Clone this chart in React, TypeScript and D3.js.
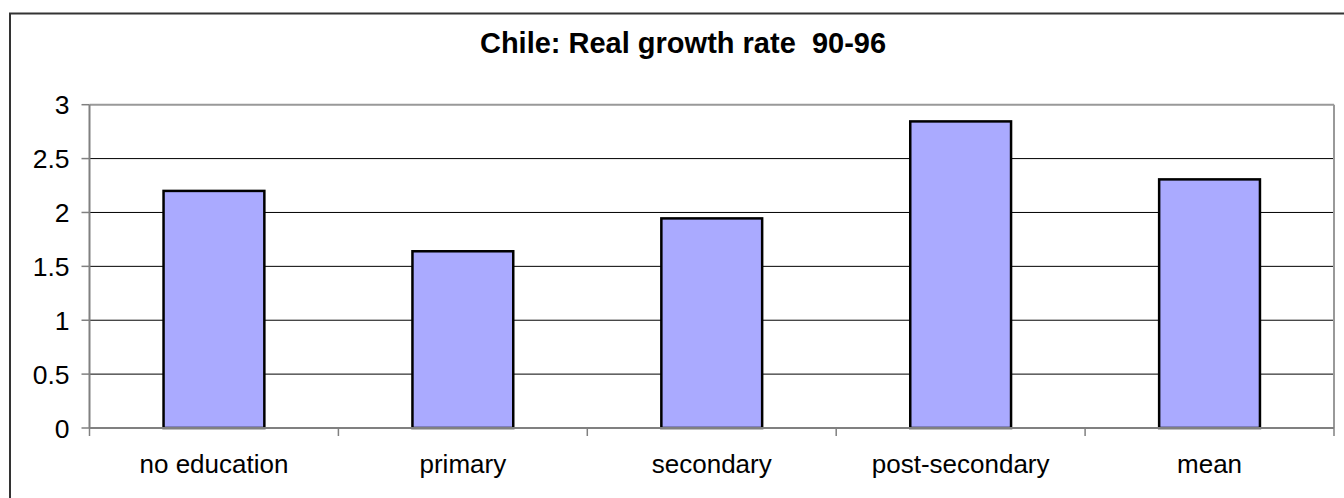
import React from "react";
import * as d3 from "d3";

const categories = ["no education", "primary", "secondary", "post-secondary", "mean"];
const values = [2.2, 1.64, 1.945, 2.845, 2.307];
const yTicks = [0, 0.5, 1, 1.5, 2, 2.5, 3];
const title = "Chile: Real growth rate  90-96";

export default function App() {
  const W = 1344, H = 498;
  const left = 89.5, right = 1334, top = 104.7, bottom = 428;
  const x = d3.scaleBand<string>().domain(categories).range([left, right]).paddingInner(0).paddingOuter(0);
  const y = d3.scaleLinear().domain([0, 3]).range([bottom, top]);
  const bw = x.bandwidth() * 0.405;
  const font = "'Liberation Sans', Arial, sans-serif";
  const edges = [...categories.map((c) => x(c)!), right];

  return (
    <svg width={W} height={H} style={{ position: "absolute", left: 0, top: 0 }}>
      <rect x={0} y={0} width={W} height={H} fill="#fff" />
      <rect x={10} y={13.5} width={1400} height={600} fill="none" stroke="#333" strokeWidth={2} />
      <text x={683} y={52.5} textAnchor="middle" fontFamily={font} fontWeight="bold" fontSize={29} fill="#000" style={{ whiteSpace: "pre" }} xmlSpace="preserve">
        {title}
      </text>
      {yTicks.filter((t) => t > 0 && t < 3).map((t) => (
        <line key={"g" + t} x1={left} x2={right} y1={y(t)} y2={y(t)} stroke="#000" strokeWidth={1} />
      ))}
      {/* plot border top/right */}
      <line x1={left} x2={right} y1={y(3)} y2={y(3)} stroke="#999" strokeWidth={2} />
      <line x1={right} x2={right} y1={y(3)} y2={bottom} stroke="#999" strokeWidth={2} />
      {categories.map((c, i) => (
        <rect
          key={c}
          x={x(c)! + (x.bandwidth() - bw) / 2}
          y={y(values[i])}
          width={bw}
          height={bottom - y(values[i])}
          fill="#AAAAFF"
          stroke="#000"
          strokeWidth={2.5}
        />
      ))}
      {/* axes */}
      <line x1={left} x2={left} y1={y(3)} y2={bottom} stroke="#808080" strokeWidth={2} />
      <line x1={left} x2={right} y1={bottom} y2={bottom} stroke="#808080" strokeWidth={2} />
      {yTicks.map((t) => (
        <g key={"y" + t}>
          <line x1={left - 8} x2={left} y1={y(t)} y2={y(t)} stroke="#808080" strokeWidth={1.5} />
          <text x={69.5} y={y(t) + 9.5} textAnchor="end" fontFamily={font} fontSize={26.5} fill="#000">
            {t}
          </text>
        </g>
      ))}
      {edges.map((e, i) => (
        <line key={"xt" + i} x1={e} x2={e} y1={bottom} y2={bottom + 8} stroke="#808080" strokeWidth={1.5} />
      ))}
      {categories.map((c) => (
        <text key={"xl" + c} x={x(c)! + x.bandwidth() / 2} y={473} textAnchor="middle" fontFamily={font} fontSize={26} fill="#000">
          {c}
        </text>
      ))}
    </svg>
  );
}
